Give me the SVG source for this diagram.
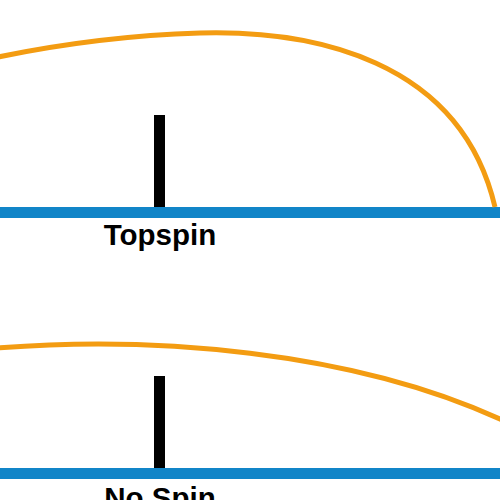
<svg xmlns="http://www.w3.org/2000/svg" width="500" height="500" viewBox="0 0 500 500">
<style>
.bar{fill:#1185C8}
.net{fill:#000}
.traj{fill:none;stroke:#F39C12;stroke-width:5;stroke-linecap:butt}
.lbl{font-family:"Liberation Sans",Arial,sans-serif;font-weight:bold;font-size:29.5px;fill:#000;text-anchor:middle}
</style>
<rect width="500" height="500" fill="#fff"/>
<g id="topspin">
<rect class="bar" x="0" y="207" width="500" height="11"/>
<rect class="net" x="154" y="115" width="11" height="92"/>
<path class="traj" d="M-2,57 Q100,36 200,33 C310,30 460,58 495,207"/>
<text class="lbl" x="160" y="245">Topspin</text>
</g>
<g id="nospin">
<rect class="bar" x="0" y="468" width="500" height="11"/>
<rect class="net" x="154" y="376" width="11" height="92"/>
<path class="traj" d="M-2,348 C150,336 350,350 502,420"/>
<text class="lbl" x="160" y="508">No Spin</text>
</g>
</svg>
